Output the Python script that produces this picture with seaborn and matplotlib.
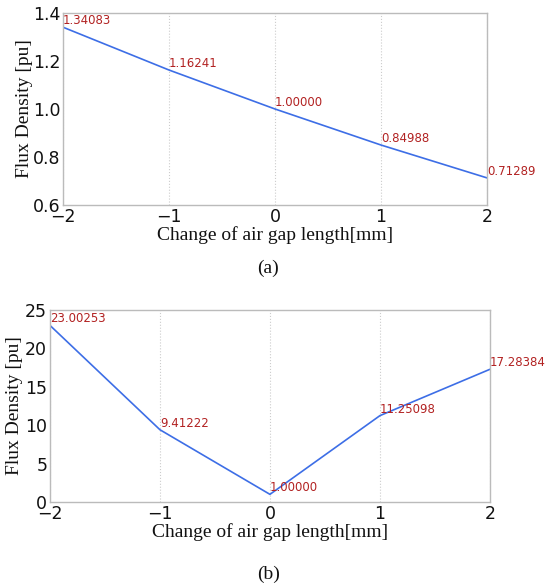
import matplotlib
matplotlib.use("Agg")
import matplotlib.pyplot as plt
import seaborn as sns
import pandas as pd

sns.set_theme(style="white")
plt.rcParams["font.family"] = ["DejaVu Sans"]

gap_change = [-2, -1, 0, 1, 2]
flux_a = [1.34083, 1.16241, 1.00000, 0.84988, 0.71289]
flux_b = [23.00253, 9.41222, 1.00000, 11.25098, 17.28384]
labels_a = ["1.34083", "1.16241", "1.00000", "0.84988", "0.71289"]
labels_b = ["23.00253", "9.41222", "1.00000", "11.25098", "17.28384"]
yticks_a = [0.6, 0.8, 1.0, 1.2, 1.4]
yticks_b = [0, 5, 10, 15, 20, 25]
xticks = [-2, -1, 0, 1, 2]

line_color = "#3d6ee6"
text_color = "#b22222"
serif = ["Liberation Serif", "DejaVu Serif"]

fig = plt.figure(figsize=(5.59, 5.86), dpi=100)
ax_a = fig.add_axes([0.1127, 0.6502, 0.7585, 0.3276])
ax_b = fig.add_axes([0.0894, 0.1433, 0.7870, 0.3276])

panels = [
    (ax_a, flux_a, labels_a, yticks_a, (0.6, 1.4), "(a)", 0.5427, -0.090),
    (ax_b, flux_b, labels_b, yticks_b, (0, 25), "(b)", 0.0205, -0.080),
]

for ax, flux, labels, yticks, ylim, tag, tag_y, ylab_x in panels:
    df = pd.DataFrame({"gap": gap_change, "flux": flux})
    sns.lineplot(data=df, x="gap", y="flux", ax=ax, color=line_color, lw=1.2)
    for x, y, s in zip(gap_change, flux, labels):
        ax.text(x, y, s, color=text_color, fontsize=8.5, ha="left", va="bottom")
    ax.set_xlim(-2, 2)
    ax.set_ylim(*ylim)
    ax.set_xticks(xticks)
    ax.set_yticks(yticks)
    ax.set_xticklabels([f"{t}".replace("-", "\u2212") for t in xticks])
    ax.tick_params(axis="both", labelsize=12.5, length=0, pad=2, colors="#111111")
    ax.xaxis.grid(True, linestyle=":", color="#cccccc", lw=0.8)
    ax.yaxis.grid(False)
    for sp in ax.spines.values():
        sp.set_color("#bbbbbb")
        sp.set_linewidth(1.0)
    ax.set_xlabel("Change of air gap length[mm]", family=serif, fontsize=14, color="#111111")
    ax.set_ylabel("Flux Density [pu]", family=serif, fontsize=14, color="#111111")
    ax.xaxis.set_label_coords(0.5, -0.11)
    ax.yaxis.set_label_coords(ylab_x, 0.5)
    ax.yaxis.label.set_va("center")
    fig.text(0.48, tag_y, tag, family=serif, fontsize=14, ha="center", va="center", color="#111111")

fig.savefig("out.png", dpi=100)
